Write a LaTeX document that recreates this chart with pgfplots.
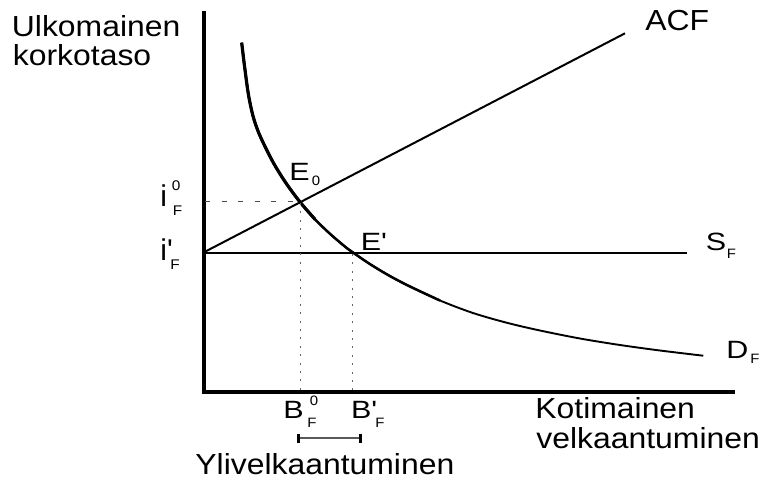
\documentclass[border=0pt]{standalone}
\usepackage{pgfplots}
\pgfplotsset{compat=1.18}
\usepackage{fontspec}
\setmainfont{Liberation Sans}
\newfontfamily\wide[FakeStretch=1.1]{Liberation Sans}
\newfontfamily\wider[FakeStretch=1.22]{Liberation Sans}
\newcommand\fbig{\wide\fontsize{14.5}{17}\selectfont}
\newcommand\fmid{\wider\fontsize{12.5}{15}\selectfont}
\newcommand\fsub{\wide\fontsize{6.8}{8}\selectfont}
\newcommand\fsubi{\wide\fontsize{7}{8}\selectfont}
\begin{document}
\begin{tikzpicture}
\begin{axis}[width=383pt, height=239.5pt, scale only axis,
  xmin=0, xmax=766, ymin=0, ymax=479, y dir=reverse,
  hide axis, clip=false]
% invisible frame for the bounding box
\addplot[draw=none] coordinates {(0,0) (766,479)};
% axes
\addplot[black, line width=2pt, line join=miter] coordinates {(203.5,11) (203.5,391.5) (735,391.5)};
% S_F horizontal
\addplot[black, line width=1.2pt] coordinates {(203.5,252.7) (687,252.7)};
% ACF line
\addplot[black, line width=1pt] coordinates {(203.5,252.5) (625,33.3)};
% D_F curve (tapering, layered)
\addplot[black, line width=0.95pt, smooth, tension=0.5] coordinates {(241.7,42.7) (244.5,66) (248.5,95) (253,116) (258,131) (264,144.4) (274,163.9) (286,183.1) (300,202) (315,219.3) (330,233.8) (345,246.6) (353.3,252.7) (370,264.1) (390,276.1) (410,286.5) (440,300.5) (473,313) (507,322.8) (540,330.5) (580,338.5) (620,345) (660,350.5) (703.3,355.7)};
\addplot[black, line width=1.25pt, smooth, tension=0.5] coordinates {(241.7,42.7) (244.5,66) (248.5,95) (253,116) (258,131) (264,144.4) (274,163.9) (286,183.1) (300,202) (315,219.3) (330,233.8) (345,246.6) (353.3,252.7) (370,264.1) (390,276.1) (410,286.5) (440,300.5)};
\addplot[black, line width=1.6pt, smooth, tension=0.5] coordinates {(241.7,42.7) (244.5,66) (248.5,95) (253,116) (258,131) (264,144.4) (274,163.9) (286,183.1) (300,202) (315,219.3)};
% dashed horizontal
\addplot[black!70, line width=0.5pt, dash pattern=on 2.5pt off 5.8pt] coordinates {(205,201.7) (300,201.7)};
% dotted verticals
\addplot[black!60, line width=0.5pt, dash pattern=on 1pt off 3.2pt] coordinates {(300,203) (300,390)};
\addplot[black!60, line width=0.5pt, dash pattern=on 1pt off 3.2pt] coordinates {(352.7,254) (352.7,390)};
% bracket
\addplot[black!65, line width=0.7pt] coordinates {(298,438) (360.5,438)};
\addplot[black, line width=1.5pt] coordinates {(298,433.5) (298,442.5)};
\addplot[black, line width=1.5pt] coordinates {(360.5,433.5) (360.5,442.5)};
% labels
\node[anchor=base west, inner sep=0] at (axis cs:11.5,36.7) {\fbig Ulkomainen};
\node[anchor=base west, inner sep=0] at (axis cs:12.5,65) {\fbig korkotaso};
\node[anchor=base west, inner sep=0] at (axis cs:535,418) {\fbig Kotimainen};
\node[anchor=base west, inner sep=0] at (axis cs:536,448) {\fbig velkaantuminen};
\node[anchor=base west, inner sep=0] at (axis cs:195,474) {\fbig Ylivelkaantuminen};
\node[anchor=base west, inner sep=0] at (axis cs:645,30) {\fbig ACF};
% S_F, D_F
\node[anchor=base west, inner sep=0] at (axis cs:705.5,250.7) {\fmid S};
\node[anchor=base west, inner sep=0] at (axis cs:726.5,258) {\fsub F};
\node[anchor=base west, inner sep=0] at (axis cs:726,358) {\fmid D};
\node[anchor=base west, inner sep=0] at (axis cs:750,363) {\fsub F};
% E0, E'
\node[anchor=base west, inner sep=0] at (axis cs:289,180) {\fmid E};
\node[anchor=base west, inner sep=0] at (axis cs:311.5,185) {\fsub 0};
\node[anchor=base west, inner sep=0] at (axis cs:360.5,250) {\fmid E\textquotesingle};
% B labels
\node[anchor=base west, inner sep=0] at (axis cs:283,418) {\fmid B};
\node[anchor=base west, inner sep=0] at (axis cs:307,427) {\fsub F};
\node[anchor=base west, inner sep=0] at (axis cs:309.5,405) {\fsub 0};
\node[anchor=base west, inner sep=0] at (axis cs:350.7,418) {\fmid B\textquotesingle};
\node[anchor=base west, inner sep=0] at (axis cs:375,427) {\fsub F};
% i labels
\node[anchor=base west, inner sep=0] at (axis cs:160,206.7) {\fontsize{15}{17}\selectfont i};
\node[anchor=base west, inner sep=0] at (axis cs:172.5,215) {\fsubi F};
\node[anchor=base west, inner sep=0] at (axis cs:171.5,190.7) {\fsubi 0};
\node[anchor=base west, inner sep=0] at (axis cs:160,260) {\fontsize{15}{17}\selectfont i\textquotesingle};
\node[anchor=base west, inner sep=0] at (axis cs:170,269) {\fsubi F};
\end{axis}
\end{tikzpicture}
\end{document}
